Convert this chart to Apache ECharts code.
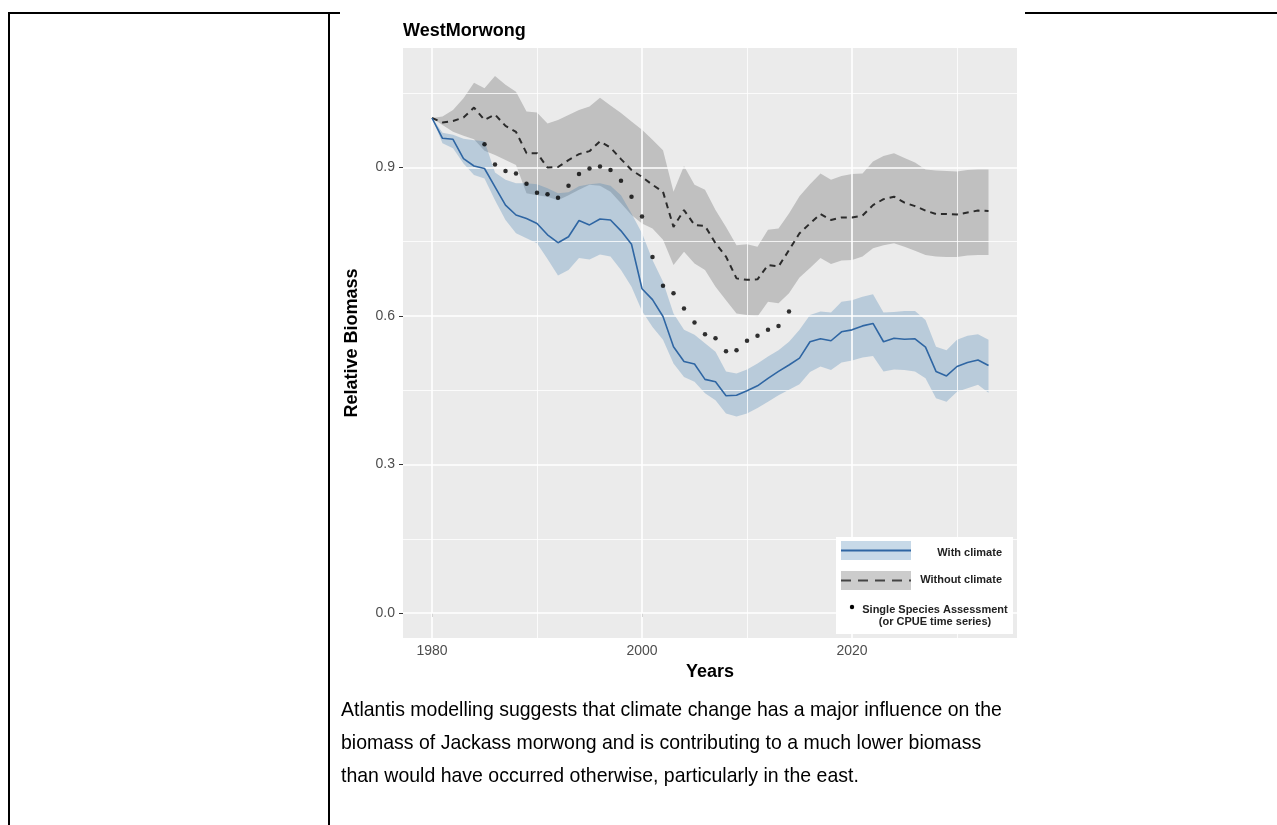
<!DOCTYPE html>
<html><head><meta charset="utf-8">
<script src="https://cdn.jsdelivr.net/npm/echarts@6/dist/echarts.min.js"></script>
<style>
html,body{margin:0;padding:0;background:#fff;width:1277px;height:825px;overflow:hidden;}
.ln{position:absolute;background:#000;}
#chart{position:absolute;left:0;top:0;width:1277px;height:825px;}
#cap{position:absolute;left:341px;top:692px;font-family:"Liberation Sans",Arial,sans-serif;font-size:21px;line-height:33px;color:#000;white-space:nowrap;transform:scaleX(0.928);transform-origin:0 0;}
</style></head><body>
<div class="ln" style="left:9px;top:12px;width:331px;height:2px"></div>
<div class="ln" style="left:1025px;top:12px;width:252px;height:2px"></div>
<div class="ln" style="left:8px;top:12px;width:2px;height:813px"></div>
<div class="ln" style="left:328px;top:12px;width:2px;height:813px"></div>
<div id="chart"></div>
<div id="cap">Atlantis modelling suggests that climate change has a major influence on the<br>biomass of Jackass morwong and is contributing to a much lower biomass<br>than would have occurred otherwise, particularly in the east.</div>
<script>
const years = [1980,1981,1982,1983,1984,1985,1986,1987,1988,1989,1990,1991,1992,1993,1994,1995,1996,1997,1998,1999,
  2000,2001,2002,2003,2004,2005,2006,2007,2008,2009,2010,2011,2012,2013,2014,2015,2016,2017,2018,2019,
  2020,2021,2022,2023,2024,2025,2026,2027,2028,2029,2030,2031,2032,2033];

const withClimate = [1.000,0.959,0.957,0.918,0.903,0.898,0.861,0.824,0.804,0.797,0.787,0.764,0.748,0.760,0.793,0.784,0.796,0.794,0.772,0.745,
  0.655,0.633,0.599,0.538,0.508,0.503,0.472,0.467,0.439,0.440,0.449,0.459,0.474,0.488,0.501,0.515,0.548,0.554,0.550,0.568,
  0.572,0.580,0.585,0.548,0.555,0.553,0.554,0.537,0.488,0.479,0.498,0.506,0.511,0.500];
const withLow = [1.000,0.949,0.939,0.908,0.885,0.878,0.834,0.794,0.767,0.757,0.747,0.715,0.682,0.693,0.717,0.714,0.724,0.720,0.693,0.659,
  0.610,0.578,0.552,0.504,0.477,0.467,0.444,0.430,0.403,0.397,0.403,0.414,0.427,0.440,0.451,0.462,0.487,0.498,0.491,0.506,
  0.510,0.516,0.519,0.488,0.492,0.491,0.488,0.474,0.434,0.427,0.447,0.454,0.461,0.445];
const withHigh = [1.000,0.970,0.966,0.958,0.955,0.953,0.890,0.875,0.868,0.868,0.866,0.858,0.848,0.850,0.862,0.866,0.868,0.863,0.844,0.807,
  0.767,0.713,0.669,0.605,0.572,0.562,0.545,0.528,0.488,0.484,0.492,0.504,0.518,0.531,0.548,0.572,0.602,0.609,0.607,0.629,
  0.632,0.639,0.644,0.607,0.608,0.610,0.610,0.592,0.538,0.531,0.552,0.560,0.563,0.552];

const withoutClimate = [1.000,0.991,0.994,1.001,1.021,0.996,1.007,0.984,0.972,0.929,0.929,0.900,0.901,0.915,0.927,0.933,0.953,0.940,0.917,0.895,
  0.881,0.865,0.851,0.780,0.814,0.784,0.782,0.747,0.720,0.676,0.673,0.674,0.703,0.700,0.733,0.767,0.787,0.806,0.794,0.799,
  0.799,0.803,0.824,0.836,0.841,0.829,0.822,0.813,0.806,0.806,0.805,0.809,0.813,0.812];
const withoutLow = [1.000,0.986,0.972,0.964,0.957,0.934,0.925,0.915,0.905,0.848,0.844,0.841,0.834,0.844,0.855,0.865,0.863,0.851,0.828,0.804,
  0.787,0.777,0.754,0.703,0.730,0.706,0.693,0.659,0.632,0.605,0.602,0.599,0.629,0.626,0.646,0.678,0.697,0.717,0.705,0.712,
  0.713,0.720,0.737,0.743,0.747,0.740,0.732,0.723,0.720,0.719,0.719,0.722,0.723,0.723];
const withoutHigh = [1.000,1.003,1.016,1.040,1.071,1.060,1.085,1.067,1.053,1.013,1.011,0.989,0.996,1.006,1.016,1.023,1.041,1.025,1.010,0.993,
  0.976,0.956,0.935,0.851,0.903,0.865,0.855,0.814,0.780,0.743,0.745,0.740,0.774,0.777,0.807,0.842,0.866,0.888,0.875,0.883,
  0.887,0.888,0.912,0.923,0.929,0.919,0.910,0.896,0.894,0.893,0.892,0.895,0.896,0.896];

const assessYears = [1985,1986,1987,1988,1989,1990,1991,1992,1993,1994,1995,1996,1997,1998,1999,
  2000,2001,2002,2003,2004,2005,2006,2007,2008,2009,2010,2011,2012,2013,2014];
const assessment = [0.947,0.906,0.893,0.888,0.867,0.849,0.846,0.839,0.863,0.887,0.898,0.902,0.895,0.873,0.841,
  0.801,0.719,0.661,0.646,0.615,0.587,0.563,0.555,0.529,0.531,0.550,0.560,0.572,0.580,0.609];

const xMajorTicks = [1980, 2000, 2020];
const xMinorTicks = [1990, 2010, 2030];
const yMajorTicks = [0, 0.3, 0.6, 0.9];
const yMinorTicks = [0.15, 0.45, 0.75, 1.05];

const FONT = '"Liberation Sans", Arial, Helvetica, sans-serif';
const zip = (xs, ys) => xs.map((x, i) => [x, ys[i]]);

function band(lo, hi, color, z) {
  return {
    type: 'custom', silent: true, z: z, data: [[years[0], lo[0]]],
    renderItem: function (params, api) {
      if (params.dataIndex !== 0) return null;
      const pts = [];
      for (let i = 0; i < years.length; i++) pts.push(api.coord([years[i], hi[i]]));
      for (let i = years.length - 1; i >= 0; i--) pts.push(api.coord([years[i], lo[i]]));
      return { type: 'polygon', shape: { points: pts }, style: { fill: color } };
    }
  };
}

const gridLines = [];
xMajorTicks.forEach(v => gridLines.push({ xAxis: v, lineStyle: { width: 1.6 } }));
xMinorTicks.forEach(v => gridLines.push({ xAxis: v, lineStyle: { width: 0.8 } }));
yMajorTicks.forEach(v => gridLines.push({ yAxis: v, lineStyle: { width: 1.6 } }));
yMinorTicks.forEach(v => gridLines.push({ yAxis: v, lineStyle: { width: 0.8 } }));

const chart = echarts.init(document.getElementById('chart'), null, { renderer: 'canvas' });
chart.setOption({
  animation: false,
  backgroundColor: 'transparent',
  title: {
    text: 'WestMorwong', left: 403, top: 22, padding: 0,
    textStyle: { fontFamily: FONT, fontSize: 18, fontWeight: 'bold', color: '#000' }
  },
  grid: { left: 403, top: 48, width: 614, height: 590, show: true, backgroundColor: '#EBEBEB', borderWidth: 0 },
  xAxis: {
    type: 'value', min: 1977.238, max: 2035.714,
    name: 'Years', nameLocation: 'middle', nameGap: 24,
    nameTextStyle: { fontFamily: FONT, fontSize: 18, fontWeight: 'bold', color: '#000' },
    axisLine: { show: false },
    splitLine: { show: false },
    axisTick: { show: true, length: 4, customValues: xMajorTicks, lineStyle: { color: '#333' } },
    axisLabel: { customValues: xMajorTicks, margin: 6, fontFamily: FONT, fontSize: 14, color: '#4D4D4D',
      formatter: v => String(Math.round(v)) }
  },
  yAxis: {
    type: 'value', min: -0.0505, max: 1.1414,
    name: 'Relative Biomass', nameLocation: 'middle', nameGap: 42,
    nameTextStyle: { fontFamily: FONT, fontSize: 18, fontWeight: 'bold', color: '#000' },
    axisLine: { show: false },
    splitLine: { show: false },
    axisTick: { show: true, length: 4, customValues: yMajorTicks, lineStyle: { color: '#333' } },
    axisLabel: { customValues: yMajorTicks, margin: 8, fontFamily: FONT, fontSize: 14, color: '#4D4D4D',
      formatter: v => v.toFixed(1) }
  },
  series: [
    {
      type: 'line', data: [], z: 0, silent: true,
      markLine: { silent: true, symbol: ['none', 'none'], label: { show: false },
        lineStyle: { color: '#FFFFFF', type: 'solid' }, data: gridLines, animation: false }
    },
    band(withoutLow, withoutHigh, 'rgba(127,127,127,0.40)', 2),
    band(withLow, withHigh, 'rgba(70,130,180,0.30)', 3),
    {
      type: 'line', name: 'Without climate', data: zip(years, withoutClimate), z: 5,
      showSymbol: false, lineStyle: { color: '#2b2b2b', width: 2, type: [6, 5] }
    },
    {
      type: 'line', name: 'With climate', data: zip(years, withClimate), z: 6,
      showSymbol: false, lineStyle: { color: '#2F66A3', width: 1.6 }
    },
    {
      type: 'scatter', name: 'Single Species Assessment', data: zip(assessYears, assessment), z: 7,
      symbol: 'circle', symbolSize: 4.5, itemStyle: { color: '#000' }
    }
  ],
  graphic: [
    { type: 'rect', z: 100, shape: { x: 836, y: 537, width: 177, height: 97 }, style: { fill: '#FFFFFF' } },
    { type: 'rect', z: 101, shape: { x: 841, y: 541, width: 70, height: 19 }, style: { fill: 'rgba(70,130,180,0.30)' } },
    { type: 'line', z: 102, shape: { x1: 841, y1: 550.5, x2: 911, y2: 550.5 }, style: { stroke: '#2F66A3', lineWidth: 2 } },
    { type: 'rect', z: 101, shape: { x: 841, y: 571, width: 70, height: 19 }, style: { fill: 'rgba(127,127,127,0.40)' } },
    { type: 'line', z: 102, shape: { x1: 841, y1: 580.5, x2: 911, y2: 580.5 }, style: { stroke: '#444', lineWidth: 2, lineDash: [10, 7] } },
    { type: 'circle', z: 102, shape: { cx: 852, cy: 607, r: 2.2 }, style: { fill: '#000' } },
    { type: 'text', z: 103, x: 1002, y: 553, style: { text: 'With climate', font: 'bold 11px ' + FONT, fill: '#222',
      textAlign: 'right', textVerticalAlign: 'middle', align: 'right', verticalAlign: 'middle' } },
    { type: 'text', z: 103, x: 1002, y: 580, style: { text: 'Without climate', font: 'bold 11px ' + FONT, fill: '#222',
      textAlign: 'right', textVerticalAlign: 'middle', align: 'right', verticalAlign: 'middle' } },
    { type: 'text', z: 103, x: 935, y: 610, style: { text: 'Single Species Assessment', font: 'bold 11px ' + FONT, fill: '#222',
      textAlign: 'center', textVerticalAlign: 'middle', align: 'center', verticalAlign: 'middle' } },
    { type: 'text', z: 103, x: 935, y: 622, style: { text: '(or CPUE time series)', font: 'bold 11px ' + FONT, fill: '#222',
      textAlign: 'center', textVerticalAlign: 'middle', align: 'center', verticalAlign: 'middle' } }
  ]
});
</script>
</body></html>
